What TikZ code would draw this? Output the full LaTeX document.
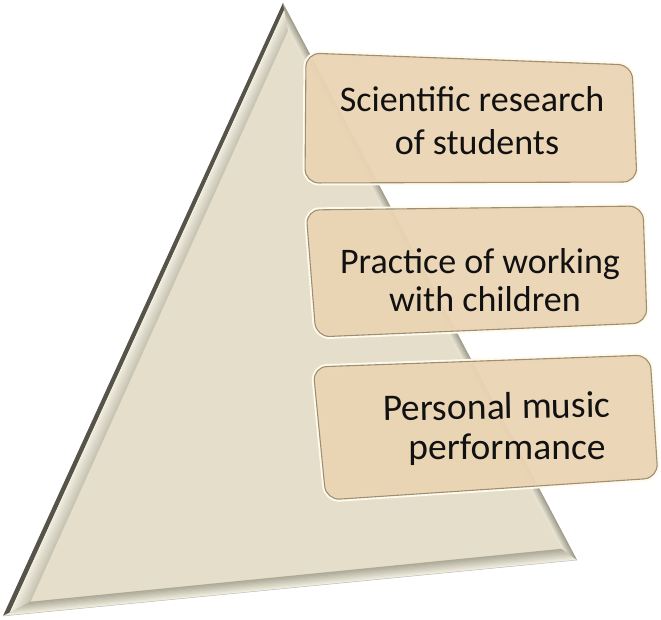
\documentclass[tikz,border=0pt]{standalone}
\usepackage{fontspec}
\setmainfont{Carlito}
\usetikzlibrary{calc}
\definecolor{face}{HTML}{E4DECA}
\definecolor{bevlight}{HTML}{F1EEDF}
\definecolor{bevgray}{HTML}{9E9A88}
\definecolor{darkedge}{HTML}{55534A}
\definecolor{boxfill}{HTML}{EAD4B3}
\definecolor{boxedge}{HTML}{9C8F76}
\definecolor{rim}{HTML}{FFFAEA}
\definecolor{inkc}{HTML}{111111}
\tikzset{
  lbl/.style={anchor=base, inner sep=0pt, text=inkc, font=\fontsize{36}{42}\selectfont},
  lblbig/.style={lbl, font=\fontsize{37.5}{42}\selectfont},
  boxrim/.style={draw=rim, line width=5pt, rounded corners=14pt},
  boxbody/.style={fill=boxfill, fill opacity=0.95, draw=boxedge, line width=1.1pt, rounded corners=14pt}
}
\begin{document}
\begin{tikzpicture}[x=1pt,y=-1pt]
\useasboundingbox (0,0) rectangle (661,620);
% triangle outer and inner corners
\coordinate (A) at (283,3);
\coordinate (B) at (3,616);
\coordinate (C) at (577,560);
\coordinate (a) at (288,30);
\coordinate (b) at (30,602);
\coordinate (c) at (562,549);
\fill[face] (A) -- (B) -- (C) -- cycle;
% left bevel: dark outer strip, light inner
\fill[darkedge] (A) -- (B) -- ($(B)!0.25!(b)$) -- ($(A)!0.25!(a)$) -- cycle;
\foreach \i in {0,...,7}{
  \pgfmathsetmacro{\s}{0.25+0.095*\i}
  \pgfmathsetmacro{\t}{0.25+0.095*(\i+1)+0.01}
  \pgfmathsetmacro{\p}{100-7*\i}
  \fill[bevlight!\p!bevgray] ($(A)!\s!(a)$) -- ($(B)!\s!(b)$) -- ($(B)!\t!(b)$) -- ($(A)!\t!(a)$) -- cycle;
}
% bottom bevel: light outer, gray inner
\foreach \i in {0,...,9}{
  \pgfmathsetmacro{\s}{0.1*\i}
  \pgfmathsetmacro{\t}{0.1*(\i+1)+0.02}
  \pgfmathsetmacro{\p}{100-9*\i}
  \fill[bevlight!\p!bevgray] ($(B)!\s!(b)$) -- ($(C)!\s!(c)$) -- ($(C)!\t!(c)$) -- ($(B)!\t!(b)$) -- cycle;
}
% right bevel: gray outer, light inner
\foreach \i in {0,...,9}{
  \pgfmathsetmacro{\s}{0.1*\i}
  \pgfmathsetmacro{\t}{0.1*(\i+1)+0.02}
  \pgfmathsetmacro{\p}{10*\i}
  \fill[bevlight!\p!bevgray] ($(C)!\s!(c)$) -- ($(A)!\s!(a)$) -- ($(A)!\t!(a)$) -- ($(C)!\t!(c)$) -- cycle;
}
\draw[black!25, line width=0.5pt] (B) -- (C);
% boxes
\coordinate (p1) at (306,53);  \coordinate (q1) at (632,65);
\coordinate (r1) at (637,182); \coordinate (s1) at (305,183);
\coordinate (p2) at (306,210); \coordinate (q2) at (643,206);
\coordinate (r2) at (647,323); \coordinate (s2) at (316,337);
\coordinate (p3) at (313,367); \coordinate (q3) at (650,355);
\coordinate (r3) at (658,478); \coordinate (s3) at (326,500);
\foreach \k in {1,2,3}{
  \draw[boxrim] (p\k) -- (q\k) -- (r\k) -- (s\k) -- cycle;
  \draw[boxbody] (p\k) -- (q\k) -- (r\k) -- (s\k) -- cycle;
}
% labels
\node[lbl] (t1a) at (472,112) {Scientific research};
\node[lbl] (t1b) at (477,155) {of students};
\node[lbl] (t2a) at (480,274) {Practice of working};
\node[lbl] (t2b) at (485,311) {with children};
\node[lblbig, rotate=1] (t3a) at (497,419) {Personal music};
\node[lblbig] (t3b) at (507,459) {performance};
\end{tikzpicture}
\end{document}
